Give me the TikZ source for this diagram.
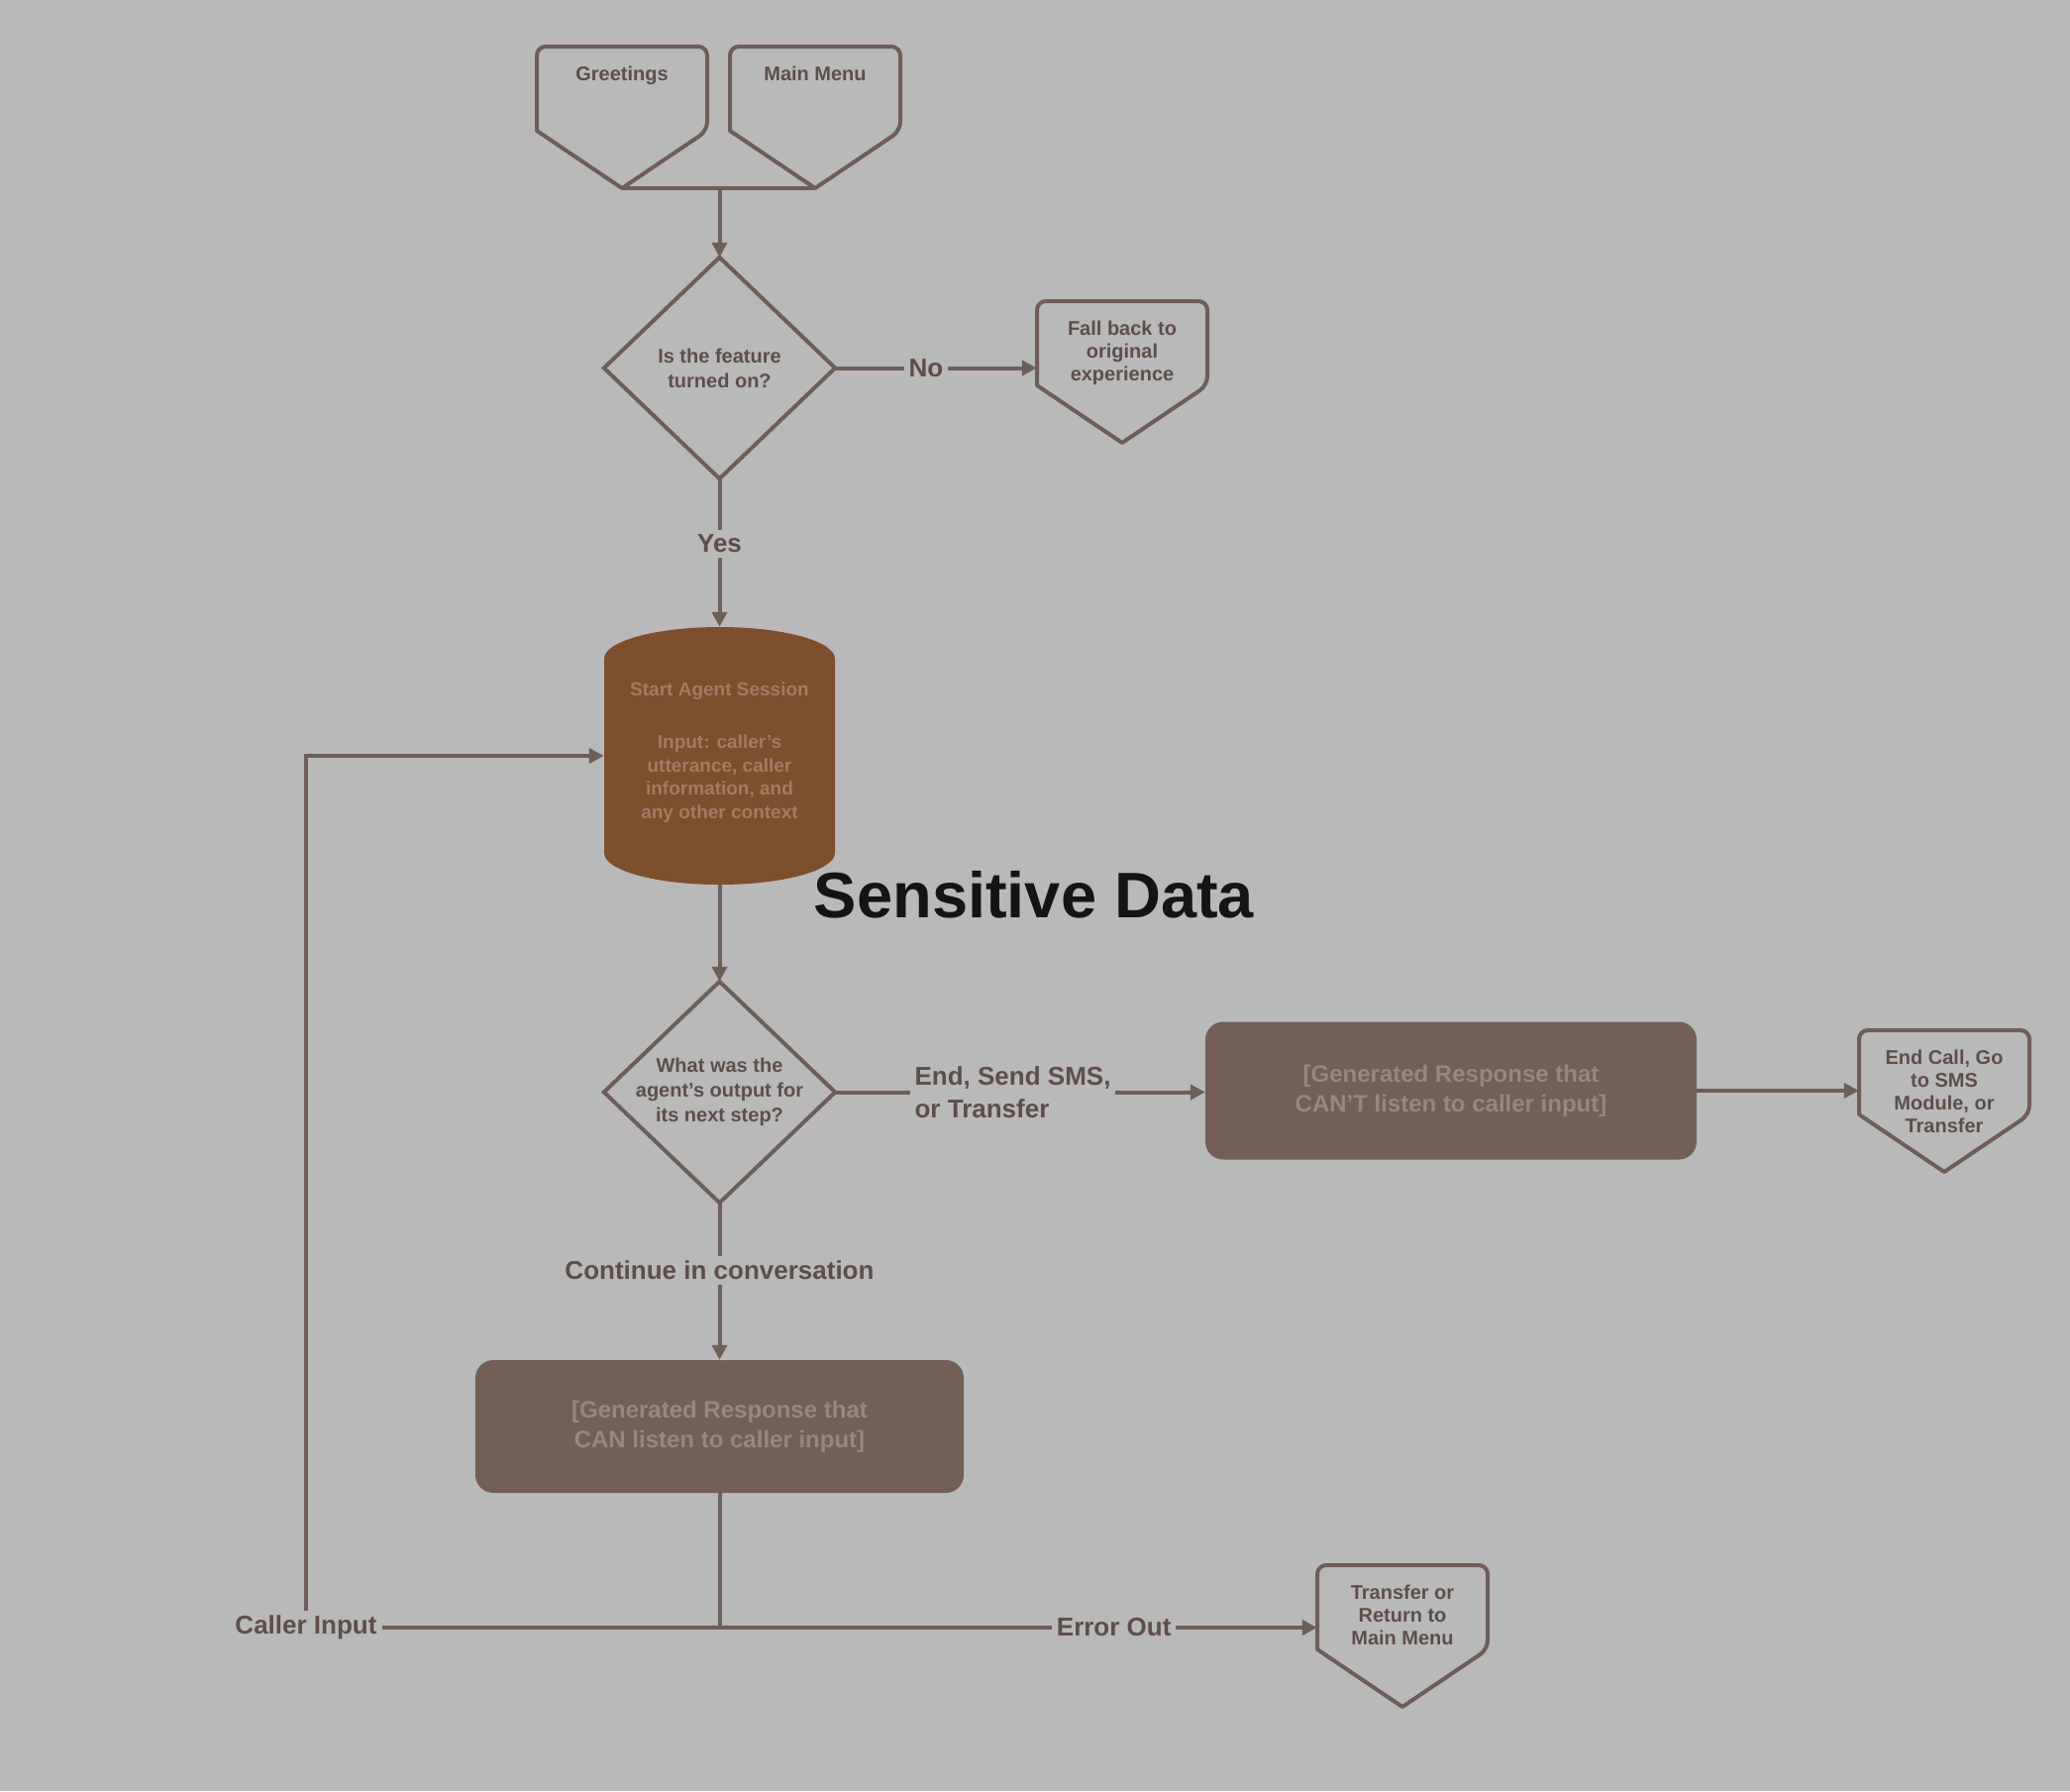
\documentclass[tikz,border=0pt]{standalone}
\usepackage{fontspec}
\setmainfont{Liberation Sans}
\usetikzlibrary{arrows.meta}
\definecolor{bg}{HTML}{B9B9B9}
\definecolor{ln}{HTML}{6E5E59}
\definecolor{boxfill}{HTML}{735F56}
\definecolor{cylfill}{HTML}{7D4F2D}
\definecolor{boxtext}{HTML}{958782}
\definecolor{cyltext}{HTML}{A27C62}
\definecolor{lbl}{HTML}{5E4E49}
\tikzset{
  conn/.style={draw=ln, line width=4pt},
  arr/.style={conn, -{Triangle[length=15pt,width=15pt]}},
  pent/.style={draw=ln, line width=4pt, line join=round},
  penttext/.style={text=lbl, font=\bfseries\fontsize{20}{23}\selectfont, align=center, inner sep=0pt},
  frame/.style={inner sep=0pt, draw=none},
  dia/.style={inner sep=0pt, minimum width=233pt, minimum height=223pt, align=center, text=lbl, font=\bfseries\fontsize{20}{25}\selectfont},
  diaedge/.style={draw=ln, line width=4pt, line join=miter},
  gbox/.style={fill=boxfill, rounded corners=18pt, align=center, text=boxtext, font=\bfseries\fontsize{24}{30}\selectfont, inner sep=0pt},
  lab/.style={fill=bg, text=lbl, font=\bfseries\fontsize{26}{33}\selectfont, inner sep=5pt, align=left},
}
\newcommand{\offpg}[4]{%
  \node[frame, minimum width=172pt, minimum height=143pt, anchor=north] (#1) at (#2,#3) {};
  \coordinate (#1-tip) at (#2,{#3+143});
  \draw[pent] (#1-tip) -- ({#2-86},{#3+85}) [rounded corners=9pt] -- ({#2-86},#3) -- ({#2+86},#3) -- ({#2+86},{#3+85}) [sharp corners] -- cycle;
  \node[penttext, anchor=north] (#1-t) at (#2,{#3+20}) {#4};
}
\begin{document}
\begin{tikzpicture}[x=1pt,y=-1pt]
\fill[bg] (0,0) rectangle (2090,1808);
\useasboundingbox (0,0) rectangle (2090,1808);

% off-page shapes
\offpg{greet}{628}{47}{Greetings}
\offpg{menu}{823}{47}{Main Menu}
\offpg{fallback}{1133}{304}{Fall back to\\original\\experience}
\offpg{endcall}{1963}{1040}{End Call, Go\\to SMS\\Module, or\\Transfer}
\offpg{trans}{1416}{1580}{Transfer or\\Return to\\Main Menu}

% diamonds
\node[dia] (d1) at (726.5,371.5) {Is the feature\\turned on?};
\draw[diaedge] (d1.north) -- (d1.east) -- (d1.south) -- (d1.west) -- cycle;
\node[dia] (d2) at (726.5,1102.5) {What was the\\agent's output for\\its next step?};
\draw[diaedge] (d2.north) -- (d2.east) -- (d2.south) -- (d2.west) -- cycle;

% agent cylinder
\node[frame, minimum width=233pt, minimum height=260pt] (agent) at (726.5,763) {};
\fill[cylfill] (610,665) .. controls (610,647.3) and (662.2,633) .. (726.5,633)
  .. controls (790.8,633) and (843,647.3) .. (843,665) -- (843,861)
  .. controls (843,878.7) and (790.8,893) .. (726.5,893)
  .. controls (662.2,893) and (610,878.7) .. (610,861) -- cycle;
\node[text=cyltext, font=\bfseries\fontsize{19}{23}\selectfont, inner sep=0pt] (agent-t1) at (726.5,698) {Start Agent Session};
\node[text=cyltext, font=\bfseries\fontsize{19}{23.5}\selectfont, inner sep=0pt, align=center] (agent-t2) at (726.5,786) {Input: caller's\\utterance, caller\\information, and\\any other context};

% generated response boxes
\node[gbox, minimum width=496pt, minimum height=139pt] (r1) at (1465,1101) {[Generated Response that\\CAN'T listen to caller input]};
\node[gbox, minimum width=493pt, minimum height=134pt] (r2) at (726.5,1440) {[Generated Response that\\CAN listen to caller input]};

% connectors
\draw[conn] (greet-tip) -- (menu-tip);
\draw[arr] (greet-tip -| d1.north) -- (d1.north);
\draw[arr] (d1.east) -- (d1.east -| fallback.west) node[lab, pos=0.45] (no) {No};
\draw[arr] (d1.south) -- (agent.north) node[lab, pos=0.44] (yes) {Yes};
\draw[arr] (agent.south) -- (d2.north);
\draw[arr] (d2.east) -- (d2.east -| r1.west) node[lab, pos=0.48] (endsend) {End, Send SMS,\\or Transfer};
\draw[arr] (r1.east) -- (r1.east -| endcall.west);
\draw[arr] (d2.south) -- (r2.north) node[lab, pos=0.43] (cont) {Continue in conversation};
\coordinate (junc) at (726.5,1643);
\coordinate (ci) at (309,1643);
\draw[conn] (r2.south) -- (junc);
\draw[arr] (junc) -- (ci) |- (agent.west);
\draw[arr] (junc) -- (junc -| trans.west) node[lab, pos=0.66] (err) {Error Out};
\node[lab] (cilab) at (ci) {Caller Input};

% overlay text
\node[text=black!92, font=\bfseries\fontsize{65}{78}\selectfont, inner sep=0pt] (sens) at (1044,903) {Sensitive Data};
\end{tikzpicture}
\end{document}
